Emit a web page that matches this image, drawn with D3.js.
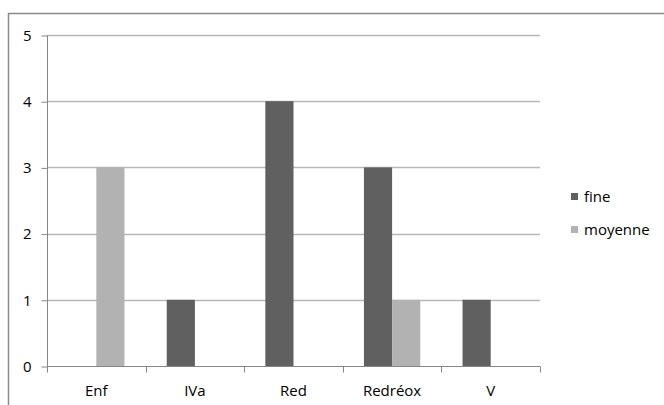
<!DOCTYPE html>
<html><head><meta charset="utf-8">
<script src="https://cdn.jsdelivr.net/npm/d3@7"></script>
<style>body{margin:0;background:#fff}svg{display:block}text{font-family:"Open Sans",sans-serif;font-size:15px;fill:#000}</style>
</head><body><svg id="c" width="664" height="405"></svg>
<script>
const categories = ["Enf","IVa","Red","Redréox","V"];
const seriesNames = ["fine","moyenne"];
const fineValues = [0,1,4,3,1];
const moyenneValues = [3,0,0,1,0];
const yTicks = [0,1,2,3,4,5];
const colors = {fine:"#606060", moyenne:"#b2b2b2"};

(function(){
const svg = d3.select("#c");
svg.append("rect").attr("x",8.5).attr("y",13.5).attr("width",700).attr("height",440)
  .attr("fill","none").attr("stroke","#8a8a8a").attr("stroke-width",1.5);

const pL=47, pR=540, pT=35, pB=366;
const x0 = d3.scaleBand().domain(categories).range([pL,pR]).padding(0);
const bw = x0.bandwidth();
const x1 = d3.scaleBand().domain(seriesNames).range([bw*0.2143, bw*0.7857]).padding(0);
const y = d3.scaleLinear().domain([0,5]).range([pB,pT]);

// gridlines
svg.append("g").selectAll("line").data(yTicks.filter(d=>d>0)).join("line")
  .attr("x1",pL).attr("x2",pR).attr("y1",d=>Math.round(y(d))+0.5).attr("y2",d=>Math.round(y(d))+0.5)
  .attr("stroke","#b8b8b8").attr("stroke-width",1.3);

// bars
const data = categories.map((c,i)=>({cat:c, vals:[{s:"fine",v:fineValues[i]},{s:"moyenne",v:moyenneValues[i]}]}));
const g = svg.append("g");
data.forEach(d=>{
  g.selectAll(null).data(d.vals.filter(v=>v.v>0)).join("rect")
    .attr("x",v=>x0(d.cat)+x1(v.s)).attr("width",x1.bandwidth())
    .attr("y",v=>y(v.v)).attr("height",v=>y(0)-y(v.v)).attr("fill",v=>colors[v.s]);
});

// y axis
const yAxis = d3.axisLeft(y).tickValues(yTicks).tickSize(6).tickPadding(10).tickFormat(d3.format("d"));
const ya = svg.append("g").attr("transform",`translate(${pL+0.5},0.5)`).call(yAxis);
ya.selectAll("path,line").attr("stroke","#868686");
ya.select(".domain").attr("d",`M0,${pT}V${pB}`);
ya.selectAll("text").style("font-family","'Open Sans',sans-serif").style("font-size","15px").attr("fill","#000");

// x axis
const xa = svg.append("g").attr("transform",`translate(0,${pB+0.5})`);
xa.append("line").attr("x1",pL).attr("x2",pR).attr("stroke","#868686");
const bounds = categories.map(c=>x0(c)).concat([pR]);
xa.selectAll(".tk").data(bounds).join("line").attr("class","tk")
  .attr("x1",d=>Math.round(d)+0.5).attr("x2",d=>Math.round(d)+0.5).attr("y1",0).attr("y2",6).attr("stroke","#868686");
xa.selectAll("text").data(categories).join("text")
  .attr("x",c=>x0(c)+bw/2).attr("y",29.5).attr("text-anchor","middle").text(c=>c);

// legend
const lg = svg.append("g");
seriesNames.forEach((s,i)=>{
  lg.append("rect").attr("x",571).attr("y",193+i*33).attr("width",7).attr("height",7).attr("fill",colors[s]);
  lg.append("text").attr("x",584).attr("y",202+i*33).text(s);
});
})();
</script></body></html>
